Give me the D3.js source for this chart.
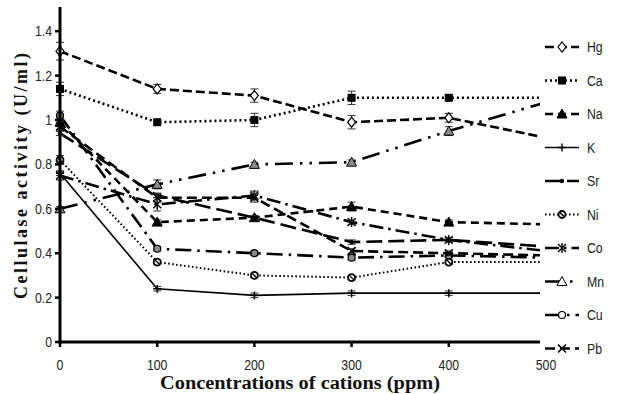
<!DOCTYPE html>
<html>
<head>
<meta charset="utf-8">
<script src="https://cdn.jsdelivr.net/npm/d3@7"></script>
<style>
  body { margin: 0; background: #fff; }
  svg { display: block; }
  .tick-label { font-family: "Liberation Sans Narrow", "Arial Narrow", "Liberation Sans", sans-serif; font-size: 15px; fill: #222; }
  .axis-title { font-family: "Liberation Serif", "Times New Roman", serif; font-weight: bold; font-size: 18px; fill: #111; }
</style>
</head>
<body>
<div id="chart"></div>
<script>
// concentrations (ppm)
var concentrations = [0, 100, 200, 300, 400, 500];
var yTicks = [0, 0.2, 0.4, 0.6, 0.8, 1, 1.2, 1.4];

var cations = ['Hg', 'Ca', 'Na', 'K', 'Sr', 'Ni', 'Co', 'Mn', 'Cu', 'Pb'];

// activity (U/ml)
var hgVals = [1.31, 1.14, 1.11, 0.99, 1.01, 0.92];
var caVals = [1.14, 0.99, 1.00, 1.10, 1.10, 1.10];
var naVals = [0.99, 0.54, 0.56, 0.61, 0.54, 0.53];
var kVals  = [0.76, 0.24, 0.21, 0.22, 0.22, 0.22];
var srVals = [0.94, 0.66, 0.56, 0.45, 0.46, 0.43];
var niVals = [0.82, 0.36, 0.30, 0.29, 0.36, 0.36];
var coVals = [0.75, 0.62, 0.66, 0.54, 0.46, 0.41];
var mnVals = [0.60, 0.71, 0.80, 0.81, 0.95, 1.08];
var cuVals = [1.02, 0.42, 0.40, 0.38, 0.39, 0.38];
var pbVals = [0.97, 0.65, 0.65, 0.41, 0.40, 0.39];

// error bars
var hgErr = [0.04, 0.02, 0.03, 0.03, 0.02, 0.02];
var caErr = [0.03, 0.01, 0.03, 0.03, 0.01, 0.01];
var naErr = [0.02, 0.01, 0.01, 0.02, 0.01, 0.01];
var kErr  = [0.01, 0.01, 0.01, 0.01, 0.01, 0.01];
var srErr = [0.01, 0.01, 0.01, 0.01, 0.01, 0.01];
var niErr = [0.02, 0.01, 0.01, 0.01, 0.01, 0.01];
var coErr = [0.02, 0.03, 0.02, 0.01, 0.01, 0.01];
var mnErr = [0.01, 0.02, 0.01, 0.01, 0.02, 0.01];
var cuErr = [0.02, 0.01, 0.01, 0.01, 0.01, 0.01];
var pbErr = [0.02, 0.02, 0.02, 0.01, 0.01, 0.01];

var allVals = [hgVals, caVals, naVals, kVals, srVals, niVals, coVals, mnVals, cuVals, pbVals];
var allErr = [hgErr, caErr, naErr, kErr, srErr, niErr, coErr, mnErr, cuErr, pbErr];

// line + marker style per cation
var styles = {
  Hg: { dash: '9,4', width: 2.6, marker: 'diamond', fill: '#fff' },
  Ca: { dash: '2,3', width: 2.6, marker: 'square', fill: '#000' },
  Na: { dash: '8,5', width: 2.6, marker: 'triangle', fill: '#000' },
  K:  { dash: null, width: 1.6, marker: 'plus', fill: '#000' },
  Sr: { dash: '16,6', width: 2.6, marker: 'dot', fill: '#000' },
  Ni: { dash: '1.6,2.4', width: 2, marker: 'slashcircle', fill: '#fff' },
  Co: { dash: '14,5,2.5,5', width: 2.6, marker: 'asterisk', fill: '#000' },
  Mn: { dash: '18,7,2.5,7,2.5,7', width: 2.6, marker: 'triangle', fill: '#8a8a8a' },
  Cu: { dash: '16,6,2.5,6', width: 2.6, marker: 'circle', fill: '#8a8a8a' },
  Pb: { dash: '10,5', width: 2.6, marker: 'cross', fill: '#000' }
};

var W = 621, H = 394;
var svg = d3.select('#chart').append('svg').attr('width', W).attr('height', H);

var x = d3.scaleLinear().domain([0, 500]).range([60, 546]);
var y = d3.scaleLinear().domain([0, 1.5]).range([342, 9]);
var plotRight = 540;
var narrow = 0.82; // squeeze for the condensed tick font

svg.append('clipPath').attr('id', 'plotClip')
  .append('rect').attr('x', 0).attr('y', 0).attr('width', plotRight).attr('height', H);

function drawMarker(g, type, fill, s) {
  var r = s / 2;
  if (type === 'diamond') {
    g.append('path').attr('d', 'M0,' + (-r - 1) + 'L' + r + ',0L0,' + (r + 1) + 'L' + (-r) + ',0Z')
      .attr('fill', fill).attr('stroke', '#000').attr('stroke-width', 1.2);
  } else if (type === 'square') {
    g.append('rect').attr('x', -r).attr('y', -r).attr('width', s).attr('height', s).attr('fill', fill);
  } else if (type === 'triangle') {
    g.append('path').attr('d', 'M0,' + (-r - 1) + 'L' + (r + 1) + ',' + r + 'L' + (-r - 1) + ',' + r + 'Z')
      .attr('fill', fill).attr('stroke', '#000').attr('stroke-width', 1);
  } else if (type === 'plus') {
    g.append('path').attr('d', 'M' + (-r) + ',0H' + r + 'M0,' + (-r) + 'V' + r)
      .attr('stroke', '#000').attr('stroke-width', 1.4);
  } else if (type === 'dot') {
    g.append('circle').attr('r', 2.2).attr('fill', '#000');
  } else if (type === 'slashcircle') {
    g.append('circle').attr('r', r - 0.5).attr('fill', '#fff').attr('stroke', '#000').attr('stroke-width', 1.8);
    g.append('path').attr('d', 'M' + (-r + 2) + ',' + (-r + 2) + 'L' + (r - 2) + ',' + (r - 2))
      .attr('stroke', '#000').attr('stroke-width', 1.4);
  } else if (type === 'asterisk') {
    g.append('path').attr('d', 'M' + (-r) + ',' + (-r) + 'L' + r + ',' + r + 'M' + r + ',' + (-r) + 'L' + (-r) + ',' + r + 'M0,' + (-r - 1) + 'V' + (r + 1))
      .attr('stroke', '#000').attr('stroke-width', 1.4);
  } else if (type === 'circle') {
    g.append('circle').attr('r', r - 0.5).attr('fill', fill).attr('stroke', '#000').attr('stroke-width', 1.2);
  } else if (type === 'cross') {
    g.append('path').attr('d', 'M' + (-r) + ',' + (-r) + 'L' + r + ',' + r + 'M' + r + ',' + (-r) + 'L' + (-r) + ',' + r)
      .attr('stroke', '#000').attr('stroke-width', 1.6);
  }
}

function narrowText(parent, tx, ty, anchor, str) {
  return parent.append('text').attr('class', 'tick-label')
    .attr('transform', 'translate(' + tx + ',' + ty + ') scale(' + narrow + ',1)')
    .attr('text-anchor', anchor)
    .text(str);
}

var plot = svg.append('g').attr('clip-path', 'url(#plotClip)');

var line = d3.line().x(function (d) { return x(d.c); }).y(function (d) { return y(d.v); });

cations.forEach(function (name, i) {
  var st = styles[name];
  var pts = concentrations.map(function (c, j) { return { c: c, v: allVals[i][j], e: allErr[i][j] }; });

  plot.append('path').datum(pts)
    .attr('d', line)
    .attr('fill', 'none')
    .attr('stroke', '#000')
    .attr('stroke-width', st.width)
    .attr('stroke-dasharray', st.dash);

  // error bars
  pts.forEach(function (p) {
    var g = plot.append('g').attr('stroke', '#333').attr('stroke-width', 1);
    g.append('line').attr('x1', x(p.c)).attr('x2', x(p.c)).attr('y1', y(p.v - p.e)).attr('y2', y(p.v + p.e));
    g.append('line').attr('x1', x(p.c) - 4).attr('x2', x(p.c) + 4).attr('y1', y(p.v - p.e)).attr('y2', y(p.v - p.e));
    g.append('line').attr('x1', x(p.c) - 4).attr('x2', x(p.c) + 4).attr('y1', y(p.v + p.e)).attr('y2', y(p.v + p.e));
  });

  pts.forEach(function (p) {
    var g = plot.append('g').attr('transform', 'translate(' + x(p.c) + ',' + y(p.v) + ')');
    drawMarker(g, st.marker, st.fill, 8);
  });
});

// axes
var axisG = svg.append('g');
axisG.append('line').attr('x1', x(0)).attr('x2', x(0)).attr('y1', 7).attr('y2', y(0) + 1.5)
  .attr('stroke', '#000').attr('stroke-width', 3);
axisG.append('line').attr('x1', x(0) - 1.5).attr('x2', plotRight).attr('y1', y(0)).attr('y2', y(0))
  .attr('stroke', '#000').attr('stroke-width', 3);

yTicks.forEach(function (t) {
  axisG.append('line').attr('x1', x(0) - 5).attr('x2', x(0)).attr('y1', y(t)).attr('y2', y(t))
    .attr('stroke', '#000').attr('stroke-width', 2.5);
  narrowText(axisG, 52, y(t) + 5, 'end', d3.format('~g')(t));
});

concentrations.forEach(function (c) {
  if (x(c) <= plotRight) {
    axisG.append('line').attr('x1', x(c)).attr('x2', x(c)).attr('y1', y(0)).attr('y2', y(0) + 5)
      .attr('stroke', '#000').attr('stroke-width', 2.5);
  }
  narrowText(axisG, x(c), 370, 'middle', c);
});

svg.append('text').attr('class', 'axis-title')
  .attr('x', 300).attr('y', 389).attr('text-anchor', 'middle')
  .attr('textLength', 280).attr('lengthAdjust', 'spacingAndGlyphs')
  .text('Concentrations of cations (ppm)');

svg.append('text').attr('class', 'axis-title')
  .attr('transform', 'translate(27,176) rotate(-90)')
  .attr('text-anchor', 'middle')
  .attr('textLength', 246).attr('lengthAdjust', 'spacing')
  .text('Cellulase activity (U/ml)');

// legend
var legend = svg.append('g');
cations.forEach(function (name, i) {
  var st = styles[name];
  var ly = 47 + i * 33.5;
  var g = legend.append('g').attr('transform', 'translate(0,' + ly + ')');
  g.append('line').attr('x1', 545).attr('x2', 579).attr('y1', 0).attr('y2', 0)
    .attr('stroke', '#000').attr('stroke-width', st.width)
    .attr('stroke-dasharray', st.dash);
  var m = g.append('g').attr('transform', 'translate(562,0)');
  var legendFill = (name === 'Mn' || name === 'Cu') ? '#fff' : st.fill;
  drawMarker(m, st.marker, legendFill, 8);
  narrowText(g, 587, 5, 'start', name);
});
</script>
</body>
</html>
